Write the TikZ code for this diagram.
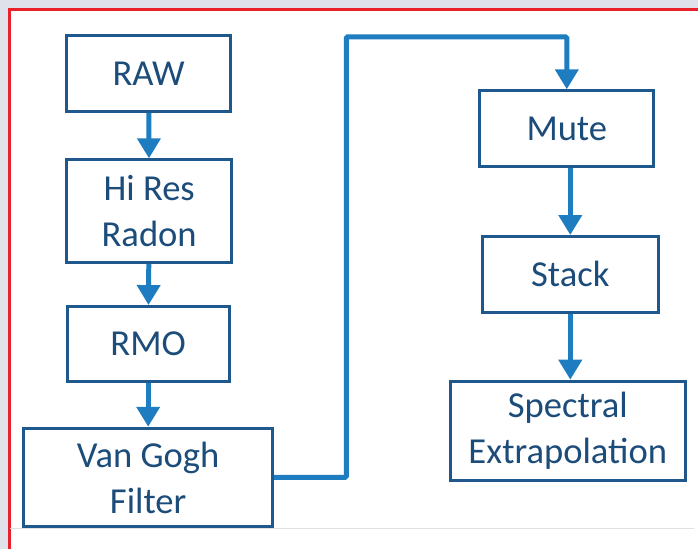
\documentclass[tikz,border=0pt]{standalone}
\usepackage{fontspec}
\setmainfont{Carlito}
\usetikzlibrary{arrows.meta}
\definecolor{boxline}{RGB}{31,88,140}
\definecolor{flowline}{RGB}{30,125,193}
\definecolor{boxtext}{RGB}{28,76,122}
\definecolor{pagegrey}{RGB}{223,226,235}
\definecolor{framered}{RGB}{232,33,43}
\begin{document}
\begin{tikzpicture}[x=0.75pt,y=0.75pt,yscale=-1,xscale=1,
    stepbox/.style={draw=boxline, line width=2.25pt, fill=white, text=boxtext,
        align=center, inner sep=0pt, font=\fontsize{27.5}{34.5}\selectfont},
    flow/.style={draw=flowline, line width=3.75pt,
        -{Triangle[width=17pt,length=15pt]}}]
        % page frame
        \fill [pagegrey] (0,0) rectangle (699,550);
        \fill [white] (10,10) rectangle (699,550);
        \draw [framered, line width=2.25pt] (10,550) -- (10,10) -- (699,10);
        \draw [black!12, line width=0.75pt] (10,530) -- (695,530);
        \useasboundingbox (0,0) rectangle (699,550);

        % left column
        \node [stepbox, minimum width=123pt, minimum height=57pt] (raw) at (149,73.5) {RAW};
        \node [stepbox, minimum width=124pt, minimum height=77pt] (radon) at (149.5,211.5) {Hi Res\\Radon};
        \node [stepbox, minimum width=122pt, minimum height=56pt] (rmo) at (148.5,344.5) {RMO};
        \node [stepbox, minimum width=187pt, minimum height=74pt] (vangogh) at (148.5,478.5) {Van Gogh\\Filter};

        % right column
        \node [stepbox, minimum width=131pt, minimum height=57pt] (mute) at (568,129) {Mute};
        \node [stepbox, minimum width=132pt, minimum height=57pt] (stack) at (571.5,275) {Stack};
        \node [stepbox, minimum width=177pt, minimum height=75pt] (spectral) at (569,432) {Spectral\\Extrapolation};

        % connectors
        \draw [flow] (raw) -- (radon);
        \draw [flow] (radon) -- (rmo);
        \draw [flow] (rmo) -- (vangogh);
        \coordinate (bend) at (347,37);
        \draw [flow, rounded corners=1pt] (vangogh.east) -| (bend) -| (mute.north);
        \draw [flow] (stack.north |- mute.south) -- (stack.north);
        \draw [flow] (stack.south) -- (stack.south |- spectral.north);
\end{tikzpicture}
\end{document}
